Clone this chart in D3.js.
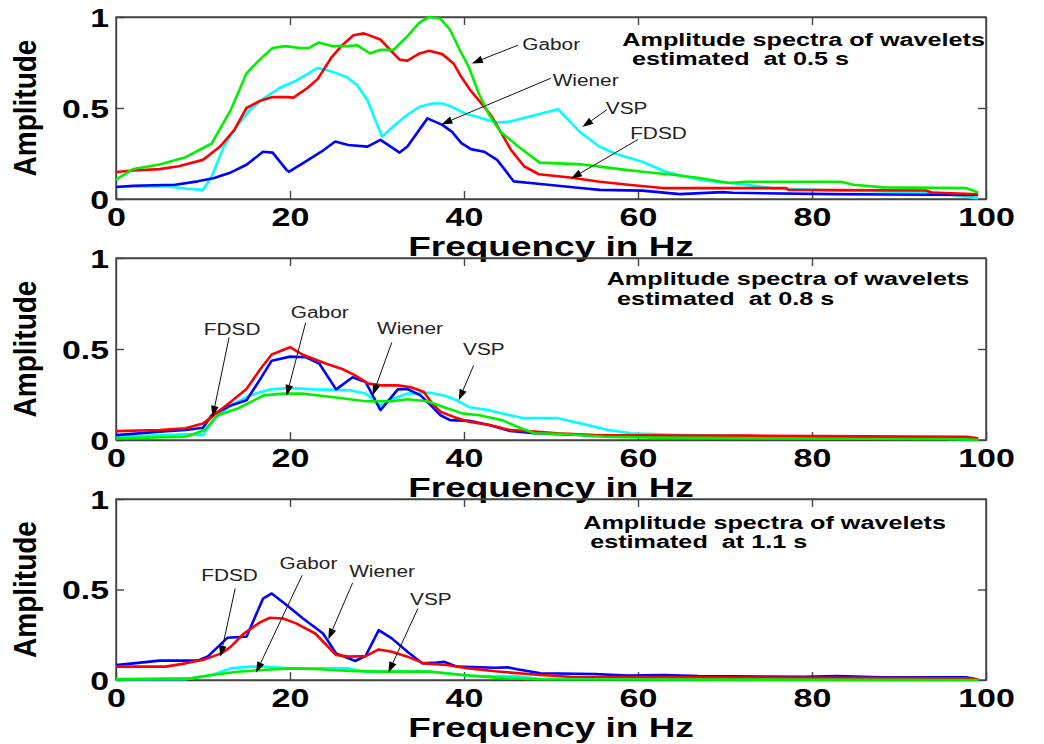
<!DOCTYPE html>
<html><head><meta charset="utf-8">
<script src="https://cdn.jsdelivr.net/npm/d3@7"></script>
<style>body{margin:0;background:#fff}svg{display:block}</style>
</head><body>
<svg id="chart" width="1044" height="744"></svg>
<script>
// ---------- data ----------
const xTicks = [0, 20, 40, 60, 80, 100];
const yTicks = [0, 0.5, 1];
const yTickLabels = ["0", "0.5", "1"];
const innerXTicks = [20, 40, 60, 80];
const innerYTicks = [0.5];
const xLabel = "Frequency in Hz";
const yLabel = "Amplitude";
const seriesNames = ["VSP", "Wiener", "FDSD", "Gabor"]; // drawing order
const titleLine1 = "Amplitude spectra of wavelets";
const titleTimes = ["0.5", "0.8", "1.1"];

// Panel 1 (0.5 s)  [frequency Hz, amplitude]
const p1Gabor = [[0,.106],[2,.165],[5,.19],[8,.23],[11,.305],[13.2,.49],[15,.69],[16.6,.77],[18,.83],[19.5,.84],[21.1,.83],[22.2,.83],[23.3,.86],[24.8,.84],[26.6,.84],[27.7,.845],[29.2,.80],[30.4,.82],[31.9,.82],[33.4,.89],[34.9,.97],[36.0,1.0],[37.3,.99],[38.4,.93],[39.5,.82],[40.6,.72],[41.7,.58],[42.8,.47],[44.2,.37],[46.2,.29],[48.7,.20],[53.6,.19],[55.6,.178],[58.6,.16],[60.5,.15],[64,.133],[67.1,.115],[70.4,.088],[72.4,.095],[83.3,.095],[84.8,.078],[88.2,.064],[97.7,.06],[99.1,.036]];
const p1FDSD = [[0,.148],[2,.157],[5,.164],[7.2,.18],[10,.215],[12,.29],[13.6,.38],[15,.50],[16.6,.54],[18,.56],[19.6,.56],[20.4,.557],[22,.61],[23.2,.66],[24.8,.78],[26,.845],[27.3,.90],[28.5,.91],[30.4,.876],[31.5,.82],[32.6,.766],[33.5,.76],[34.9,.80],[36,.814],[37.5,.796],[38.8,.745],[39.7,.67],[40.7,.60],[42,.525],[43.1,.46],[44.2,.37],[45.4,.27],[46.9,.18],[48.6,.136],[52.2,.118],[55.6,.095],[59.2,.077],[62.8,.06],[70.9,.06],[77,.06],[77.3,.05],[93.1,.047],[93.8,.036],[99.1,.026]];
const p1Wiener = [[0,.066],[2,.073],[6.8,.078],[9.4,.097],[11.3,.115],[13.2,.146],[15,.188],[16.9,.26],[18,.255],[19.6,.16],[19.9,.15],[21.5,.197],[23.6,.26],[25.2,.316],[26.7,.297],[28.9,.288],[30.4,.325],[32.6,.255],[33.5,.288],[35.8,.443],[37.5,.407],[38.6,.37],[39.7,.307],[40.8,.274],[42.3,.26],[43.8,.215],[45,.142],[45.7,.097],[48.2,.085],[53.1,.062],[55.6,.05],[60.5,.046],[64.8,.027],[69.7,.038],[70.9,.034],[82.4,.027],[99.1,.022]];
const p1VSP = [[0,.066],[5.7,.07],[8,.058],[10,.05],[11,.124],[12.4,.29],[13.9,.40],[15.4,.49],[16.9,.55],[18.8,.61],[20.7,.65],[23.2,.72],[24.8,.70],[26.5,.67],[27.7,.626],[28.9,.544],[29.8,.434],[30.6,.343],[31.9,.40],[33.4,.46],[34.9,.507],[36.4,.525],[37.5,.525],[38.6,.507],[40.1,.47],[41.6,.45],[42.7,.434],[43.8,.42],[45.2,.425],[50.8,.493],[53.3,.37],[55.5,.29],[57.5,.247],[60.5,.205],[63.2,.15],[65.5,.122],[67.8,.1],[70.9,.087],[75.4,.06],[82.4,.047],[93.9,.036],[99.1,.005]];

// Panel 2 (0.8 s)
const p2FDSD = [[0,.049],[5,.055],[8,.064],[10,.09],[11,.127],[13.2,.21],[15,.28],[16.6,.39],[17.9,.47],[20,.51],[21.4,.47],[24.1,.42],[26,.39],[27.5,.355],[29,.31],[30.5,.30],[32.4,.30],[33.9,.29],[35.4,.264],[36.2,.21],[37.3,.155],[38.8,.127],[40.6,.10],[42.9,.082],[45.3,.055],[48.1,.046],[50.7,.037],[55,.027],[65,.024],[72.8,.024],[97.7,.018],[99.1,.009]];
const p2Wiener = [[0,.027],[5,.045],[8,.055],[10,.067],[11,.136],[13.2,.19],[15,.218],[16.6,.336],[17.9,.436],[20,.458],[21.8,.455],[23.4,.418],[25.3,.278],[27.2,.345],[28.7,.318],[30.4,.164],[32.4,.278],[33.5,.28],[35,.245],[36.2,.19],[37.3,.136],[38.4,.109],[40.6,.105],[42.9,.082],[45.3,.05],[48.1,.037],[55,.025],[70,.02],[97.7,.012],[99.1,.005]];
const p2VSP = [[0,.018],[8,.031],[10,.027],[11.3,.118],[13.2,.19],[15.4,.245],[17.7,.278],[20,.285],[22.9,.278],[26.9,.273],[28.7,.255],[30.4,.19],[31.7,.224],[33.5,.255],[36.2,.26],[37.7,.245],[39.2,.218],[40.6,.18],[42.9,.164],[45.3,.136],[46.9,.12],[50.8,.12],[53.5,.09],[56.6,.055],[59.2,.037],[65,.027],[75,.02],[90,.012],[99.1,.003]];
const p2Gabor = [[0,.009],[8,.018],[10.2,.055],[11.7,.136],[14,.173],[17,.245],[19.2,.255],[21.4,.255],[24.8,.236],[28.7,.213],[31.7,.213],[33.5,.224],[35.8,.213],[37.7,.18],[39.9,.145],[41.8,.136],[44.4,.109],[46.1,.073],[48.1,.037],[51.4,.033],[56.1,.018],[61.9,.013],[97.7,.004],[99.1,0]];

// Panel 3 (1.1 s)
const p3Wiener = [[0,.083],[2,.092],[5,.107],[9.4,.107],[10.6,.132],[12.8,.233],[14.7,.239],[15,.239],[16.9,.45],[17.9,.478],[19.6,.414],[21.5,.34],[23.8,.257],[25.3,.147],[27.5,.105],[28.7,.134],[30.2,.276],[31.7,.23],[33.5,.156],[35.2,.092],[36.9,.096],[37.7,.101],[39.2,.074],[43.6,.068],[45,.07],[46.1,.059],[48.8,.037],[55,.033],[58.8,.024],[62.9,.028],[66.9,.022],[79,.018],[82.9,.022],[87.9,.015],[97.7,.015],[99.1,.002]];
const p3FDSD = [[0,.074],[5.7,.074],[8,.092],[10.2,.114],[12.1,.147],[13.2,.184],[14.7,.257],[16.6,.32],[17.7,.344],[19.2,.34],[20.7,.313],[22.9,.257],[25.3,.138],[26.8,.129],[28.7,.132],[30.2,.169],[31.7,.156],[33.5,.129],[35.4,.092],[38,.083],[40.6,.064],[43.6,.048],[48.8,.028],[52.2,.018],[97.7,.009],[99.1,.002]];
const p3VSP = [[0,.005],[8,.005],[11,.028],[13.2,.064],[15.4,.074],[16.9,.074],[20,.064],[26.8,.064],[28.7,.046],[36.2,.046],[39.2,.031],[40.6,.022],[45.9,.022],[48.4,.008],[99.1,.002]];
const p3Gabor = [[0,.004],[8.7,.009],[11,.028],[14,.046],[16.9,.055],[20,.064],[22.9,.061],[26.8,.05],[30.5,.046],[36.2,.046],[39.9,.028],[43.6,.013],[45.9,.009],[48.4,.004],[99.1,0]];

// Annotations in data units: label position, arrow tail, arrow head
const p1Notes = [
  {label:"Gabor",  at:[46.7,.82],  from:[46.2,.845], to:[40.9,.745]},
  {label:"Wiener", at:[50.2,.62],  from:[50.0,.664], to:[37.4,.41]},
  {label:"VSP",    at:[56.3,.467], from:[56.4,.49],  to:[53.6,.395]},
  {label:"FDSD",   at:[59.1,.327], from:[60.0,.327], to:[52.3,.112]}
];
const p2Notes = [
  {label:"FDSD",   at:[10.1,.576], from:[13.0,.564], to:[11.1,.127]},
  {label:"Gabor",  at:[20.1,.671], from:[21.8,.645], to:[19.6,.242]},
  {label:"Wiener", at:[30.0,.585], from:[31.7,.536], to:[29.5,.245]},
  {label:"VSP",    at:[39.9,.467], from:[41.1,.409], to:[39.4,.218]}
];
const p3Notes = [
  {label:"FDSD",   at:[9.8,.546],  from:[13.7,.506], to:[12.0,.129]},
  {label:"Gabor",  at:[18.8,.614], from:[21.4,.579], to:[16.1,.04]},
  {label:"Wiener", at:[26.8,.57],  from:[27.2,.537], to:[24.4,.224]},
  {label:"VSP",    at:[33.8,.417], from:[34.7,.395], to:[31.3,.04]}
];
const titlePos = [[58.2,.842,59.3,.738],[56.4,.852,57.6,.742],[53.7,.835,54.5,.73]];

// ---------- layout / style ----------
const colors = {Gabor:"#00f000", FDSD:"#ff0000", Wiener:"#0000ff", VSP:"#00ffff"};
const FONT = "'Liberation Sans', Arial, Helvetica, sans-serif";
const panels = [
  {top:17,  bottom:199, series:{Gabor:p1Gabor, FDSD:p1FDSD, Wiener:p1Wiener, VSP:p1VSP}, notes:p1Notes},
  {top:258, bottom:440, series:{Gabor:p2Gabor, FDSD:p2FDSD, Wiener:p2Wiener, VSP:p2VSP}, notes:p2Notes},
  {top:499, bottom:680, series:{Gabor:p3Gabor, FDSD:p3FDSD, Wiener:p3Wiener, VSP:p3VSP}, notes:p3Notes}
];
const svg = d3.select("#chart");
const x = d3.scaleLinear().domain([0,100]).range([116,986]);

function stretch(sel, sx){
  sel.each(function(){
    const w = this.getComputedTextLength();
    d3.select(this).attr("textLength", w*sx).attr("lengthAdjust","spacingAndGlyphs");
  });
}

panels.forEach((p, i) => {
  const y = d3.scaleLinear().domain([0,1]).range([p.bottom, p.top]);
  const g = svg.append("g");

  // axes
  const ax = g.append("g").attr("transform",`translate(0,${p.bottom})`)
    .call(d3.axisBottom(x).tickValues(xTicks).tickSize(-8).tickSizeOuter(0));
  ax.selectAll("text").attr("y",27).attr("dy",0)
    .style("font-family",FONT).style("font-size","25px").style("font-weight","bold").attr("fill","#000");
  stretch(ax.selectAll("text"), 1.36);

  const ay = g.append("g").attr("transform",`translate(116,0)`)
    .call(d3.axisLeft(y).tickValues(yTicks).tickFormat((d,k)=>yTickLabels[k]).tickSize(-8).tickSizeOuter(0));
  ay.selectAll("text").attr("x",-7).attr("dy","0.36em")
    .style("font-family",FONT).style("font-size","26px").style("font-weight","bold").attr("fill","#000");
  stretch(ay.selectAll("text"), 1.3);

  g.append("g").attr("transform",`translate(0,${p.top})`)
    .call(d3.axisTop(x).tickValues(innerXTicks).tickSize(-8).tickSizeOuter(0).tickFormat(""));
  g.append("g").attr("transform",`translate(986,0)`)
    .call(d3.axisRight(y).tickValues(innerYTicks).tickSize(-8).tickSizeOuter(0).tickFormat(""));
  g.selectAll(".domain").attr("stroke","#444").attr("stroke-width",1.4);
  g.selectAll(".tick line").attr("stroke","#444").attr("stroke-width",1.4);

  g.append("rect").attr("x",116).attr("y",p.top).attr("width",870).attr("height",p.bottom-p.top)
    .attr("fill","none").attr("stroke","#444").attr("stroke-width",1.4);

  // series
  const line = d3.line().x(d=>x(d[0])).y(d=>y(d[1]));
  seriesNames.forEach(name => {
    g.append("path").datum(p.series[name]).attr("d",line)
      .attr("fill","none").attr("stroke",colors[name]).attr("stroke-width",2.6)
      .attr("stroke-linejoin","round");
  });

  // annotations
  p.notes.forEach(n => {
    const x1=x(n.from[0]), y1=y(n.from[1]), x2=x(n.to[0]), y2=y(n.to[1]);
    const ang=Math.atan2(y2-y1,x2-x1), L=11, Wd=3.8;
    const bx=x2-L*Math.cos(ang), by=y2-L*Math.sin(ang);
    g.append("line").attr("x1",x1).attr("y1",y1).attr("x2",bx).attr("y2",by)
      .attr("stroke","#111").attr("stroke-width",1);
    const px=-Math.sin(ang)*Wd, py=Math.cos(ang)*Wd;
    g.append("path").attr("d",`M${x2},${y2}L${bx+px},${by+py}L${bx-px},${by-py}Z`).attr("fill","#000");
    const t = g.append("text").attr("x",x(n.at[0])).attr("y",y(n.at[1])).text(n.label)
      .style("font-family",FONT).style("font-size","16px").attr("fill","#222");
    stretch(t, 1.3);
  });

  // title
  const tp = titlePos[i];
  const t1 = g.append("text").attr("x",x(tp[0])).attr("y",y(tp[1])).text(titleLine1)
    .style("font-family",FONT).style("font-size","18px").style("font-weight","bold");
  stretch(t1, 1.40);
  const t2 = g.append("text").attr("x",x(tp[2])).attr("y",y(tp[3])).attr("xml:space","preserve")
    .style("white-space","pre").text(`estimated  at ${titleTimes[i]} s`)
    .style("font-family",FONT).style("font-size","18px").style("font-weight","bold");
  stretch(t2, 1.40);

  // axis labels
  const xl = g.append("text").attr("x",551).attr("y",p.bottom+57).attr("text-anchor","middle").text(xLabel)
    .style("font-family",FONT).style("font-size","27px").style("font-weight","bold");
  stretch(xl, 1.37);
  const cy = (p.top+p.bottom)/2;
  g.append("text").attr("transform",`translate(36,${cy}) rotate(-90) scale(1,1.12)`)
    .attr("text-anchor","middle").text(yLabel)
    .style("font-family",FONT).style("font-size","28px").style("font-weight","bold");
});
</script>
</body></html>
